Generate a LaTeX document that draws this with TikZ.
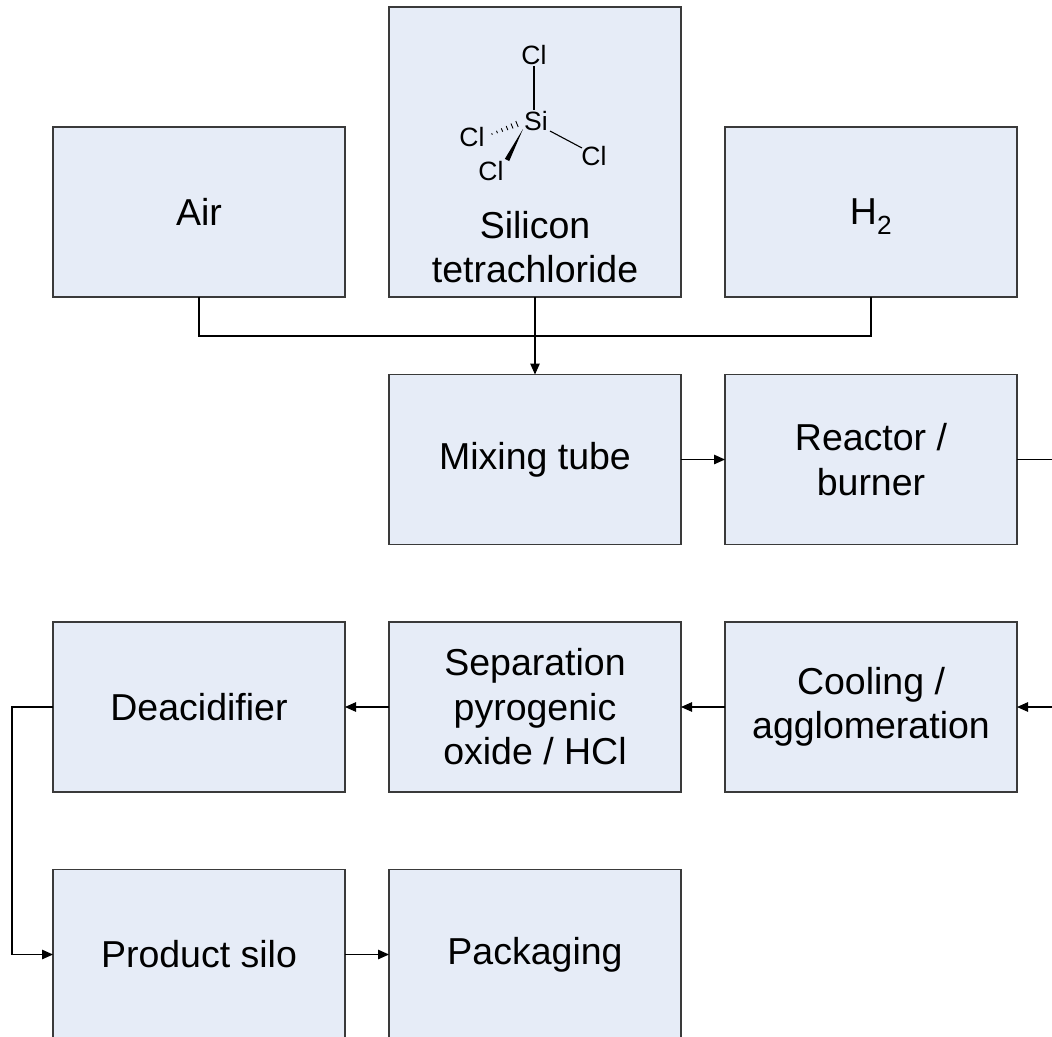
\documentclass[tikz,border=0pt]{standalone}
\usepackage{fontspec}
\setmainfont{Liberation Sans}
\usetikzlibrary{arrows.meta}
\definecolor{boxfill}{HTML}{E6ECF7}
\definecolor{boxline}{HTML}{3A3A3A}
\begin{document}
\begin{tikzpicture}[x=1pt,y=-1pt,
  procbox/.style={draw=boxline,fill=boxfill,line width=1.3pt,minimum width=292pt,minimum height=170pt,inner sep=0pt,outer sep=0pt,align=center,font=\fontsize{37.5}{44.5}\selectfont},
  flow/.style={draw=black,line width=1.2pt},
  flowarr/.style={flow,-{Triangle[length=11pt,width=9.5pt]}},
  atom/.style={inner sep=1pt,font=\fontsize{26.5}{26.5}\selectfont},
  bond/.style={draw=black,line width=1.1pt}]
\useasboundingbox (0,0) rectangle (1052,1036);
\clip (0,0) rectangle (1052,1036);
% boxes
\node[procbox] (air) at (199,212) {Air};
\node[procbox,minimum height=290pt] (sicl) at (535,152) {};
\node[procbox] (h2) at (871,212) {H\smash{\textsubscript{2}}};
\node[procbox] (mix) at (535,459.5) {Mixing tube};
\node[procbox] (reac) at (871,459.5) {Reactor /\\burner};
\node[procbox] (deac) at (199,707) {Deacidifier};
\node[procbox] (sep) at (535,707) {Separation\\pyrogenic\\oxide / HCl};
\node[procbox] (cool) at (871,707) {Cooling /\\agglomeration};
\node[procbox] (silo) at (199,954.5) {Product silo};
\node[procbox] (pack) at (535,954.5) {Packaging};
% silicon tetrachloride label and structure
\node[align=center,inner sep=0pt,font=\fontsize{37.5}{44.5}\selectfont] (sicltext) at (535,247) {Silicon\\tetrachloride};
\node[atom] (clt) at (534,55) {Cl};
\node[atom] (si) at (536,121) {Si};
\node[atom] (cll) at (472,137) {Cl};
\node[atom] (clr) at (594,156) {Cl};
\node[atom] (clb) at (491,171) {Cl};
\draw[bond] (clt.south) -- (si.north -| clt.south);
\draw[bond] (550,131) -- (582,148);
\foreach \t in {0,0.2,0.4,0.6,0.8,1.0}{
  \pgfmathsetmacro{\px}{517-25*\t}
  \pgfmathsetmacro{\py}{124+10*\t}
  \pgfmathsetmacro{\ph}{3.2-2.4*\t}
  \draw[line width=0.9pt] (\px+0.37*\ph,\py+0.93*\ph) -- (\px-0.37*\ph,\py-0.93*\ph);
}
\fill (523,129) -- (509.2,161.1) -- (504.8,158.9) -- cycle;
% connectors
\coordinate (junc) at (535,336);
\draw[flow] (air.south) |- (junc) -| (h2.south);
\draw[flowarr] (sicl.south) -- (mix.north);
\draw[flowarr] (mix.east) -- (reac.west);
\coordinate (reacout) at (1070,459.5);
\draw[flow] (reac.east) -- (reacout);
\coordinate (coolin) at (1070,707);
\draw[flowarr] (coolin) -- (cool.east);
\draw[flowarr] (cool.west) -- (sep.east);
\draw[flowarr] (sep.west) -- (deac.east);
\coordinate (bend) at (12,707);
\draw[flowarr] (deac.west) -- (bend) |- (silo.west);
\draw[flowarr] (silo.east) -- (pack.west);
\end{tikzpicture}
\end{document}
